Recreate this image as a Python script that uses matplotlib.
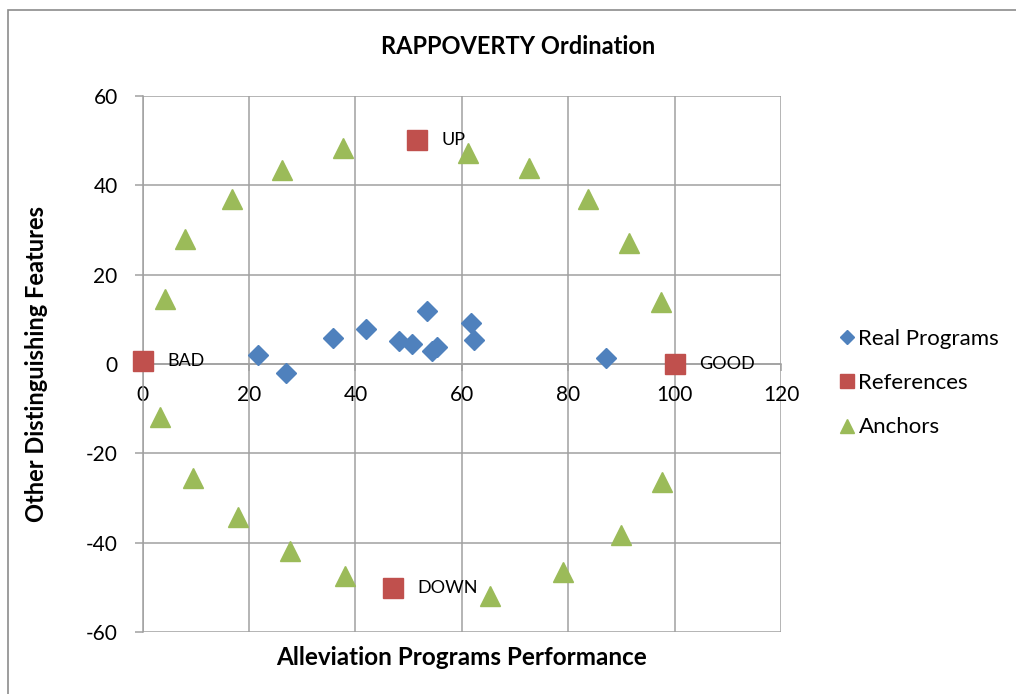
import matplotlib
matplotlib.use("Agg")
import matplotlib.pyplot as plt
from matplotlib.patches import Rectangle

# ---- data ----
real_x = [21.6, 27.0, 35.8, 42.0, 48.1, 50.6, 53.5, 54.4, 55.4, 61.8, 62.3, 87.1]
real_y = [2.0, -2.1, 5.9, 7.8, 5.1, 4.4, 11.8, 3.0, 3.9, 9.2, 5.3, 1.3]

ref_names = ["BAD", "GOOD", "UP", "DOWN"]
ref_x = [0.0, 100.0, 51.5, 47.0]
ref_y = [0.6, 0.0, 50.0, -50.0]

anchor_x = [4.25, 8.0, 16.8, 26.2, 37.7, 61.2, 72.6, 83.8, 91.4, 97.4,
            3.25, 9.5, 18.0, 27.7, 38.1, 65.2, 79.0, 90.0, 97.6]
anchor_y = [14.5, 27.9, 37.0, 43.4, 48.4, 47.2, 43.8, 37.0, 27.1, 13.8,
            -11.8, -25.4, -34.3, -41.8, -47.3, -51.8, -46.6, -38.3, -26.4]

x_ticks = [0, 20, 40, 60, 80, 100, 120]
y_ticks = [-60, -40, -20, 0, 20, 40, 60]

title = "RAPPOVERTY Ordination"
x_label = "Alleviation Programs Performance"
y_label = "Other Distinguishing Features"
series_names = ["Real Programs", "References", "Anchors"]

# ---- style ----
BLUE = "#4F81BD"
RED = "#C0504D"
GREEN = "#9BBB59"
GRID = "#A0A0A0"
FONT = ["Lato", "DejaVu Sans"]
plt.rcParams['font.family'] = FONT
plt.rcParams['axes.unicode_minus'] = False

fig = plt.figure(figsize=(10.16, 6.94), dpi=100)
fig.patches.append(Rectangle((8 / 1016, -0.05), 1.2, 1 - 10 / 694 + 0.05,
                             transform=fig.transFigure, fill=False,
                             edgecolor="#8c8c8c", linewidth=1.2))

ax = fig.add_axes([142.7 / 1016, 1 - 632.3 / 694, 638.3 / 1016, 536.6 / 694])
ax.set_xlim(0, 120)
ax.set_ylim(-60, 60)
ax.set_xticks(x_ticks)
ax.set_yticks(y_ticks)
ax.grid(True, color=GRID, linewidth=1.1)
ax.set_axisbelow(True)

for s in ["top", "right"]:
    ax.spines[s].set_visible(False)
ax.spines["left"].set_color(GRID)
ax.spines["left"].set_linewidth(1.1)
ax.spines["bottom"].set_position(("data", 0))
ax.spines["bottom"].set_color(GRID)
ax.spines["bottom"].set_linewidth(1.1)

ax.tick_params(axis="y", direction="out", length=6, width=1.1, color=GRID,
               labelsize=15, pad=12)
ax.tick_params(axis="x", direction="out", length=5, width=1.1, color=GRID,
               labelsize=15, pad=10)

ax.plot(real_x, real_y, linestyle="none", marker="D", markersize=9.8,
        color=BLUE, label=series_names[0], clip_on=False, zorder=3)
ax.plot(ref_x, ref_y, linestyle="none", marker="s", markersize=14,
        color=RED, label=series_names[1], clip_on=False, zorder=3)
ax.plot(anchor_x, anchor_y, linestyle="none", marker="^", markersize=14.5,
        color=GREEN, label=series_names[2], clip_on=False, zorder=3)

for name, x, y in zip(ref_names, ref_x, ref_y):
    ax.annotate(name, (x, y), xytext=(18, 0), textcoords="offset points",
                ha="left", va="center", fontsize=13, zorder=4)

ax.set_xlabel(x_label, fontsize=17.5, fontweight="bold", labelpad=0)
ax.xaxis.set_label_coords(0.5, -0.026)
ax.set_ylabel(y_label, fontsize=17, fontweight="bold")
ax.yaxis.set_label_coords(-0.148, 0.5)

fig.text(518 / 1016, 1 - 47 / 694, title, ha="center", va="center",
         fontsize=17, fontweight="bold")

leg = fig.legend(loc="center left", bbox_to_anchor=(814 / 1016, 1 - 383 / 694),
                 frameon=False, fontsize=16, handletextpad=-0.1,
                 labelspacing=1.1, markerscale=0.72, handlelength=1.2)

fig.savefig("out.png", dpi=100)
